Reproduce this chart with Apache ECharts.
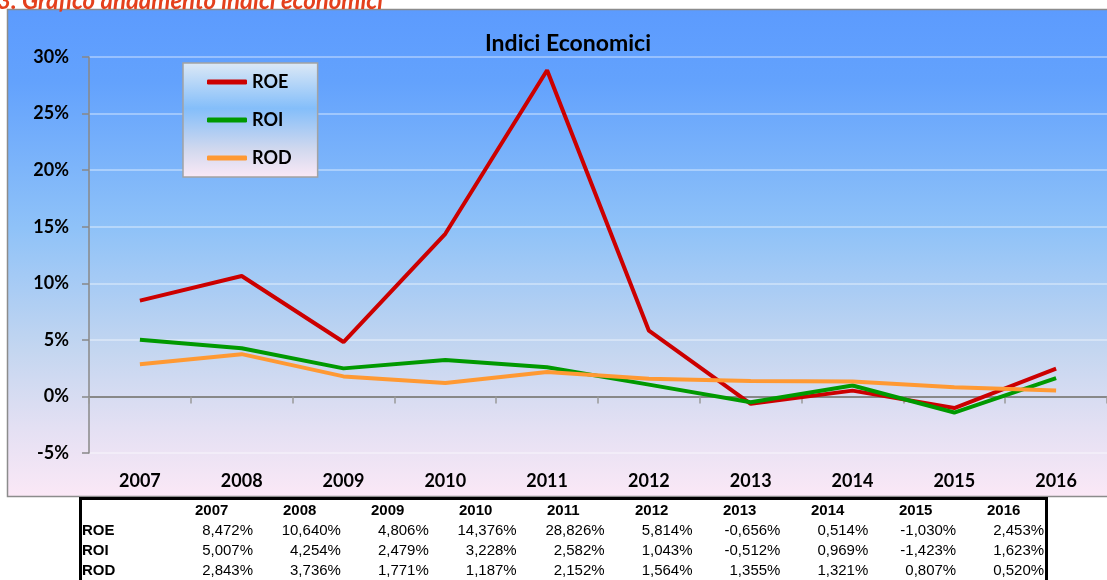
<!DOCTYPE html>
<html>
<head>
<meta charset="utf-8">
<script src="https://cdn.jsdelivr.net/npm/echarts@6/dist/echarts.min.js"></script>
<style>
  html, body { margin: 0; padding: 0; background: #fff; }
  #chart { width: 1107px; height: 580px; }
</style>
</head>
<body>
<div id="chart"></div>
<script>
// data (percent)
const years = ['2007', '2008', '2009', '2010', '2011', '2012', '2013', '2014', '2015', '2016']
const roe = [8.472, 10.640, 4.806, 14.376, 28.826, 5.814, -0.656, 0.514, -1.030, 2.453]
const roi = [5.007, 4.254, 2.479, 3.228, 2.582, 1.043, -0.512, 0.969, -1.423, 1.623]
const rod = [2.843, 3.736, 1.771, 1.187, 2.152, 1.564, 1.355, 1.321, 0.807, 0.520]
const seriesNames = ['ROE', 'ROI', 'ROD']
const yMin = -5
const yMax = 30
const yStep = 5

const labelFont = 'Lato, "Open Sans", sans-serif'
const tableFont = '"Liberation Sans", Arial, sans-serif'

const fmt = v => v.toFixed(3).replace('.', ',') + '%'

function vGrad(stops) {
  return new echarts.graphic.LinearGradient(0, 0, 0, 1,
    stops.map(([offset, color]) => ({ offset, color })))
}

// table under the chart, built from the same arrays
function buildTable() {
  const els = []
  const rowsY = [511, 531, 551, 571]
  els.push({
    type: 'rect',
    shape: { x: 80.5, y: 498.5, width: 966, height: 120 },
    style: { fill: 'transparent', stroke: '#000', lineWidth: 3 },
    z: 10
  })
  years.forEach((y, i) => {
    els.push({
      type: 'text', x: 195 + i * 88, y: rowsY[0], z: 11,
      style: { text: y, font: 'bold 15px ' + tableFont, fill: '#000', verticalAlign: 'middle', align: 'left' }
    })
  })
  const rows = [roe, roi, rod]
  rows.forEach((vals, r) => {
    els.push({
      type: 'text', x: 82, y: rowsY[r + 1], z: 11,
      style: { text: seriesNames[r], font: 'bold 15px ' + tableFont, fill: '#000', verticalAlign: 'middle', align: 'left' }
    })
    vals.forEach((v, i) => {
      els.push({
        type: 'text', x: 253 + i * 87.9, y: rowsY[r + 1], z: 11,
        style: { text: fmt(v), font: '15px ' + tableFont, fill: '#000', verticalAlign: 'middle', align: 'right' }
      })
    })
  })
  return els
}

const chart = echarts.init(document.getElementById('chart'))

chart.setOption({
  animation: false,
  backgroundColor: '#fff',
  title: {
    text: 'Indici Economici',
    left: 563,
    top: 27,
    textAlign: 'center',
    textStyle: { fontFamily: labelFont, fontSize: 23, fontWeight: 'bold', color: '#000' }
  },
  legend: {
    data: seriesNames,
    orient: 'vertical',
    left: 183,
    top: 63,
    padding: [9, 26, 9, 24],
    itemGap: 18,
    itemWidth: 40,
    itemHeight: 5,
    icon: 'roundRect',
    backgroundColor: vGrad([[0, '#dde9f6'], [0.4, '#84befa'], [0.75, '#d0d8ee'], [1, '#fbe9f6']]),
    borderColor: '#a3a3a3',
    borderWidth: 1.5,
    textStyle: { fontFamily: labelFont, fontSize: 18, fontWeight: 'bold', color: '#000', lineHeight: 20 }
  },
  grid: {
    left: 89,
    top: 57,
    width: 1023,
    height: 396,
    show: false
  },
  xAxis: [
    {
      type: 'category',
      data: years,
      position: 'bottom',
      axisLine: { show: false, onZero: false },
      axisTick: { show: false },
      axisLabel: { margin: 19, fontFamily: labelFont, fontSize: 18, fontWeight: 'bold', color: '#000' },
      splitLine: { show: false }
    },
    {
      type: 'category',
      data: years,
      position: 'top',
      axisLine: { show: true, onZero: true, lineStyle: { color: '#888', width: 2 } },
      axisTick: { show: true, inside: true, length: 7, lineStyle: { color: '#999', width: 1.5 } },
      axisLabel: { show: false },
      splitLine: { show: false }
    }
  ],
  yAxis: {
    type: 'value',
    min: yMin,
    max: yMax,
    interval: yStep,
    axisLine: { show: true, lineStyle: { color: '#888', width: 1.5 } },
    axisTick: { show: true, length: 7, lineStyle: { color: '#888', width: 1.5 } },
    axisLabel: {
      margin: 20,
      fontFamily: labelFont, fontSize: 18, fontWeight: 'bold', color: '#000',
      formatter: v => v + '%'
    },
    splitLine: { show: true, lineStyle: { color: 'rgba(255,255,255,0.35)', width: 2 } }
  },
  graphic: [
    {
      type: 'rect',
      shape: { x: 7.5, y: 9.5, width: 1115, height: 487 },
      style: {
        fill: vGrad([[0, '#5c9bfe'], [0.15, '#63a2fd'], [0.45, '#8fc2f8'], [0.7, '#c4d6f0'], [0.86, '#e4e0f3'], [1, '#fbe8f6']]),
        stroke: '#8c8c8c',
        lineWidth: 1.5
      },
      z: -10,
      silent: true
    },
    {
      type: 'text',
      x: -3,
      y: 13,
      style: {
        text: '3. Grafico andamento indici economici',
        font: 'italic bold 24px ' + labelFont,
        fill: '#e4401c',
        verticalAlign: 'bottom',
        align: 'left'
      },
      z: 10
    },
    ...buildTable()
  ],
  series: [
    { name: 'ROE', type: 'line', data: roe, showSymbol: false, lineStyle: { width: 4, color: '#cc0000' }, itemStyle: { color: '#cc0000' } },
    { name: 'ROI', type: 'line', data: roi, showSymbol: false, lineStyle: { width: 4, color: '#009900' }, itemStyle: { color: '#009900' } },
    { name: 'ROD', type: 'line', data: rod, showSymbol: false, lineStyle: { width: 4, color: '#ff9933' }, itemStyle: { color: '#ff9933' } }
  ]
})
</script>
</body>
</html>
